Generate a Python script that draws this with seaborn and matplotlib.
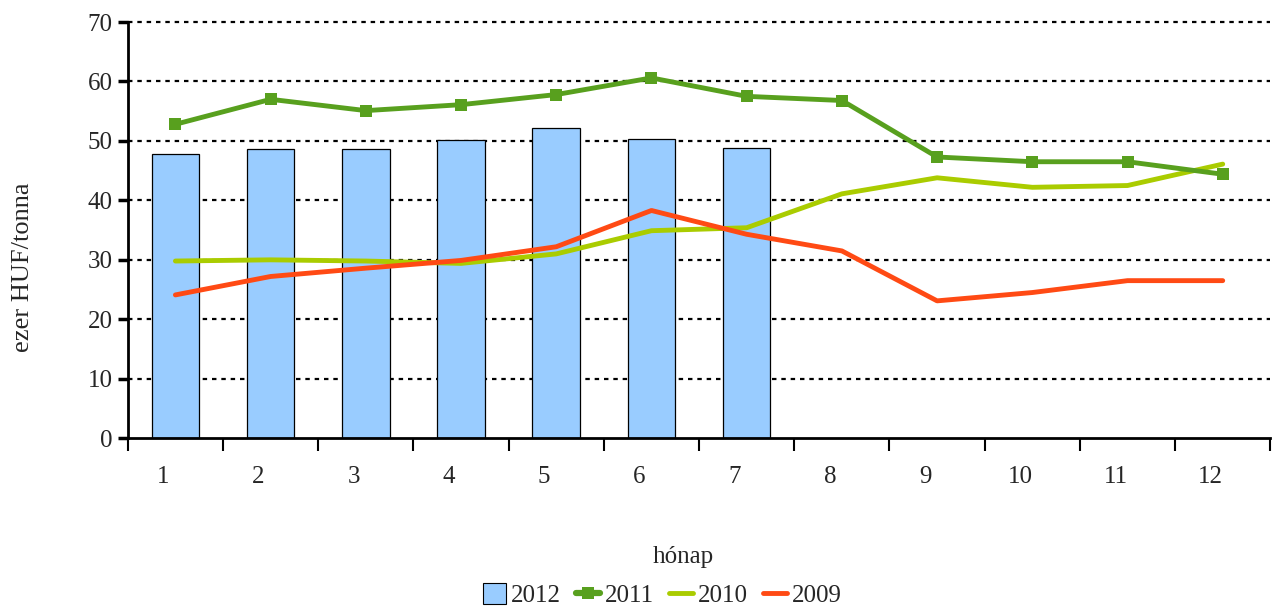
import matplotlib
matplotlib.use("Agg")
import matplotlib.pyplot as plt
import matplotlib.transforms as mtransforms
from matplotlib.patches import Patch
from matplotlib.lines import Line2D
import seaborn as sns
import pandas as pd

months = [1, 2, 3, 4, 5, 6, 7, 8, 9, 10, 11, 12]
v2012 = [47.8, 48.7, 48.7, 50.1, 52.1, 50.4, 48.8]
v2011 = [52.8, 57.0, 55.1, 56.1, 57.8, 60.6, 57.5, 56.8, 47.3, 46.5, 46.5, 44.4]
v2010 = [29.8, 30.0, 29.8, 29.4, 31.0, 34.9, 35.4, 41.1, 43.8, 42.2, 42.5, 46.1]
v2009 = [24.1, 27.2, 28.6, 29.9, 32.2, 38.3, 34.3, 31.5, 23.1, 24.5, 26.5, 26.5]
yticks = [0, 10, 20, 30, 40, 50, 60, 70]
xlabel = "hónap"
ylabel = "ezer HUF/tonna"

c2012 = "#99CCFF"
c2011 = "#58A01E"
c2010 = "#AACC00"
c2009 = "#FF4A14"

sns.set_style("white")
plt.rcParams["font.family"] = ["Liberation Serif", "DejaVu Serif"]

fig = plt.figure(figsize=(12.78, 6.12), dpi=100)
ax = fig.add_axes([0.100, 0.284, 0.894, 0.680])

df12 = pd.DataFrame({"m": months[:len(v2012)], "v": v2012})
sns.barplot(data=df12, x="m", y="v", native_scale=True, width=0.5,
            color=c2012, edgecolor="black", linewidth=0.9, saturation=1, ax=ax, zorder=2)

df11 = pd.DataFrame({"m": months, "v": v2011})
df10 = pd.DataFrame({"m": months, "v": v2010})
df09 = pd.DataFrame({"m": months, "v": v2009})
sns.lineplot(data=df10, x="m", y="v", color=c2010, linewidth=3.5, ax=ax, zorder=3)
sns.lineplot(data=df09, x="m", y="v", color=c2009, linewidth=3.5, ax=ax, zorder=4)
sns.lineplot(data=df11, x="m", y="v", color=c2011, linewidth=3.5, marker="s",
             markersize=9, markeredgewidth=0, ax=ax, zorder=5)

ax.set_xlim(0.5, 12.5)
ax.set_ylim(0, 70)
ax.set_yticks(yticks)
ax.set_yticklabels([str(t) for t in yticks], fontsize=18)
for t in yticks[1:]:
    ax.axhline(t, color="black", linestyle=(0, (2, 2.2)), linewidth=1.6, zorder=1,
               clip_on=False)

ax.set_xticks([m + 0.5 for m in [0] + months])
ax.set_xticklabels([])
ax.set_xticks(months, minor=True)
ax.set_xticklabels([str(m) for m in months], minor=True, fontsize=18)
ax.tick_params(axis="x", which="major", bottom=True, direction="out", length=9,
               width=1.5, color="black")
ax.tick_params(axis="x", which="minor", bottom=True, length=0, pad=20)
ax.tick_params(axis="y", left=True, direction="out", length=7, width=2.5,
               color="black", pad=4)
offset = mtransforms.ScaledTranslation(-12 / 100, 0, fig.dpi_scale_trans)
for lbl in ax.xaxis.get_minorticklabels():
    lbl.set_transform(lbl.get_transform() + offset)

for s in ["top", "right"]:
    ax.spines[s].set_visible(False)
ax.spines["left"].set_linewidth(2)
ax.spines["bottom"].set_linewidth(2)
ax.spines["left"].set_color("black")
ax.spines["bottom"].set_color("black")

ax.set_xlabel("")
ax.set_ylabel("")
fig.text(0.018, 0.564, ylabel, rotation=90, ha="center", va="center", fontsize=19)
fig.text(0.535, 0.09, xlabel, ha="center", va="center", fontsize=18)

handles = [
    Patch(facecolor=c2012, edgecolor="black", linewidth=0.8),
    Line2D([], [], color=c2011, linewidth=4.5, marker="s", markersize=9, markeredgewidth=0),
    Line2D([], [], color=c2010, linewidth=3.5),
    Line2D([], [], color=c2009, linewidth=3.5),
]
fig.legend(handles, ["2012", "2011", "2010", "2009"], loc="center", ncol=4,
           bbox_to_anchor=(0.518, 0.027), frameon=False, fontsize=18,
           handlelength=0.95, handleheight=0.9, handletextpad=0.2, columnspacing=0.6)

fig.savefig("out.png", dpi=100)
